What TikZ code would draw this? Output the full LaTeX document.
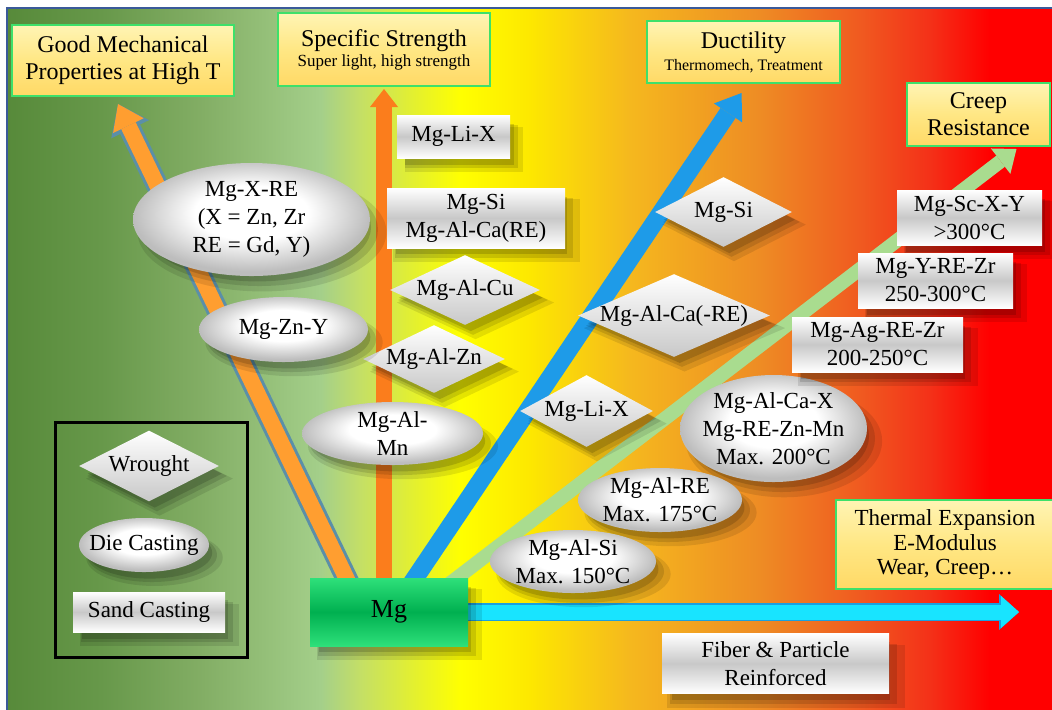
\documentclass[tikz,border=0pt]{standalone}
\usepackage{fontspec}
\setmainfont{Liberation Serif}
\usetikzlibrary{arrows.meta,shapes.geometric,shadows}

\definecolor{bgA}{HTML}{578A3A}
\definecolor{bgB}{HTML}{67984A}
\definecolor{bgC}{HTML}{82AD64}
\definecolor{bgD}{HTML}{A4CF8A}
\definecolor{bgE}{HTML}{C4DF66}
\definecolor{bgF}{HTML}{FFFF00}
\definecolor{bgG}{HTML}{FDE800}
\definecolor{bgH}{HTML}{F5B81E}
\definecolor{bgI}{HTML}{EE8C24}
\definecolor{bgJ}{HTML}{F05A20}
\definecolor{bgK}{HTML}{F43018}
\definecolor{bgL}{HTML}{FF0000}
\definecolor{framecol}{HTML}{3A5A9A}
\definecolor{hdrlight}{HTML}{FFF4B4}
\definecolor{hdrmid}{HTML}{FFE784}
\definecolor{hdrdark}{HTML}{FFD966}
\definecolor{hdredge}{HTML}{3EE06A}
\definecolor{mgdark}{HTML}{00B050}
\definecolor{mglight}{HTML}{2EE07A}
\definecolor{silver}{HTML}{C8C8C8}
\definecolor{silveredge}{HTML}{BDBDBD}
\definecolor{arrorange}{HTML}{FF9E30}
\definecolor{arrdeep}{HTML}{FB7D1C}
\definecolor{arrsteel}{HTML}{5B8FA8}
\definecolor{arrblue}{HTML}{1E9BE8}
\definecolor{arrgreen}{HTML}{A9DC8F}
\definecolor{arrcyan}{HTML}{18E4FF}
\definecolor{cyanedge}{HTML}{1AA0E0}

\pgfdeclarehorizontalshading{bgshade}{100bp}{color(0bp)=(bgA); color(25bp)=(bgA); color(29.5bp)=(bgB); color(34.2bp)=(bgC); color(40bp)=(bgD); color(41.9bp)=(bgE); color(46.7bp)=(bgF); color(50bp)=(bgG); color(54.8bp)=(bgH); color(61bp)=(bgI); color(65.8bp)=(bgJ); color(69.2bp)=(bgK); color(72bp)=(bgL); color(100bp)=(bgL)}
\pgfdeclareradialshading{silverglow}{\pgfpoint{0bp}{4bp}}{color(0bp)=(white); color(12bp)=(white); color(25bp)=(silveredge); color(50bp)=(silveredge)}

\pgfdeclarelayer{bg}
\pgfdeclarelayer{arrowlayer}
\pgfsetlayers{bg,arrowlayer,main}

\tikzset{
  every node/.style={font=\fontsize{11.5}{14}\selectfont, align=center, inner sep=0pt},
  hdrbox/.style={rectangle, draw=hdredge, line width=1pt, top color=hdrlight, bottom color=hdrdark, middle color=hdrmid},
  softshadow/.style={drop shadow={shadow xshift=5pt, shadow yshift=-6pt, shadow scale=1.05, opacity=.1, fill=black},
    drop shadow={shadow xshift=4pt, shadow yshift=-5pt, opacity=.12, fill=black},
    drop shadow={shadow xshift=3pt, shadow yshift=-4pt, shadow scale=.96, opacity=.15, fill=black}},
  silverbox/.style={rectangle, softshadow, top color=white, bottom color=white, middle color=silver},
  silveroval/.style={ellipse, softshadow, shading=silverglow, inner xsep=-2pt, inner ysep=-1.5pt},
  silvergem/.style={diamond, softshadow, top color=white, bottom color=silver},
  mgbox/.style={rectangle, softshadow, top color=mglight, bottom color=mglight, middle color=mgdark, font=\fontsize{13}{15}\selectfont},
}

\begin{document}
\begin{tikzpicture}[x=0.5pt, y=-0.5pt]
\useasboundingbox (0,0) rectangle (1052,709);
\begin{pgfonlayer}{bg}
\shade[shading=bgshade] (7,7) rectangle (1052,709);
\draw[framecol, line width=1pt] (6.5,7.5) rectangle (1060,720);
\end{pgfonlayer}

\node (gm) at (123,60.5) [hdrbox, minimum width=111pt, minimum height=35.5pt, font=\fontsize{12}{13.5}\selectfont] {Good Mechanical\\Properties at High T};
\node (ss) at (384,49.5) [hdrbox, minimum width=106pt, minimum height=36.5pt, font=\fontsize{12}{10}\selectfont] {Specific Strength\\{\fontsize{8.5}{10}\selectfont Super light, high strength}};
\node (duct) at (743.5,52) [hdrbox, minimum width=96.5pt, minimum height=31pt, font=\fontsize{12}{11}\selectfont] {Ductility\\{\fontsize{8}{10}\selectfont Thermomech, Treatment}};
\node (creep) at (978.5,114.5) [hdrbox, minimum width=71.5pt, minimum height=31.5pt, font=\fontsize{12}{13.5}\selectfont] {Creep\\Resistance};
\node (therm) at (945,544.5) [hdrbox, minimum width=109pt, minimum height=44.5pt, font=\fontsize{11.5}{12.25}\selectfont] {Thermal Expansion\\E-Modulus\\Wear, Creep…};

\node (lixbox) at (453.5,136.5) [silverbox, minimum width=56.5pt, minimum height=21.5pt] {Mg-Li-X};
\node (sibox) at (476,218) [silverbox, minimum width=89pt, minimum height=30pt] {Mg-Si\\Mg-Al-Ca(RE)};
\node (alcu) at (465,290) [silvergem, aspect=2.14, minimum width=75pt, minimum height=35pt] {Mg-Al-Cu};
\node (alzn) at (434,359) [silvergem, aspect=2.09, minimum width=71pt, minimum height=34pt] {Mg-Al-Zn};
\node (xre) at (251.5,219.5) [silveroval, minimum width=118.5pt, minimum height=56.5pt] {Mg-X-RE\\(X = Zn, Zr\\RE = Gd, Y)};
\node (zny) at (283.5,329.5) [silveroval, minimum width=84.5pt, minimum height=32.5pt] {Mg-Zn-Y};
\node (almn) at (392.5,433.5) [silveroval, minimum width=90.5pt, minimum height=31.5pt] {Mg-Al-\\Mn};
\node (sigem) at (723.5,212) [silvergem, aspect=1.96, minimum width=68.5pt, minimum height=35pt] {Mg-Si};
\node (alcagem) at (674,315.5) [silvergem, aspect=2.31, inner ysep=-1pt, minimum width=96pt, minimum height=41.5pt] {Mg-Al-Ca(-RE)};
\node (lixgem) at (586.5,411) [silvergem, aspect=1.85, minimum width=66.5pt, minimum height=36pt] {Mg-Li-X};
\node (alcax) at (773.5,428.5) [silveroval, minimum width=93.5pt, minimum height=53.5pt, inner xsep=-4pt] {Mg-Al-Ca-X\\Mg-RE-Zn-Mn\\Max. 200°C};
\node (alre) at (660,500) [silveroval, minimum width=82pt, minimum height=32pt] {Mg-Al-RE\\Max. 175°C};
\node (alsi) at (573,561.5) [silveroval, minimum width=83pt, minimum height=31.5pt] {Mg-Al-Si\\Max. 150°C};
\node (scxy) at (969.5,217.5) [silverbox, minimum width=72.5pt, minimum height=27.5pt] {Mg-Sc-X-Y\\>300°C};
\node (yrezr) at (935.5,280.5) [silverbox, minimum width=77.5pt, minimum height=27.5pt] {Mg-Y-RE-Zr\\250-300°C};
\node (agrezr) at (877.5,344.5) [silverbox, minimum width=85.5pt, minimum height=27.5pt] {Mg-Ag-RE-Zr\\200-250°C};
\node (fiber) at (775.5,663.5) [silverbox, minimum width=113.5pt, minimum height=30pt] {Fiber \& Particle\\Reinforced};
\node (mg) at (389,612) [mgbox, minimum width=79pt, minimum height=34pt] {Mg};
\coordinate (mmctip) at (1019,612);

\draw[line width=1.5pt] (55,422) rectangle (247,657);
\node (wrought) at (149,466) [silvergem, aspect=1.97, minimum width=70pt, minimum height=35.5pt] {Wrought};
\node (die) at (144,545) [silveroval, minimum width=65pt, minimum height=27pt, inner xsep=-5pt] {Die Casting};
\node (sand) at (149,612) [silverbox, minimum width=76pt, minimum height=20pt] {Sand Casting};

\begin{pgfonlayer}{arrowlayer}
\draw[line width=8pt, arrorange, -{Triangle[width=17pt,length=12pt,line width=0pt]}, preaction={draw=arrsteel, line width=11pt, -{Triangle[width=21pt,length=14pt,line width=0pt]}}] ([xshift=-19.5pt,yshift=-4pt]mg.north) -- ([xshift=-2.5pt,yshift=-3.5pt]gm.south);
\draw[line width=8pt, arrdeep, -{Triangle[width=14pt,length=9pt,line width=0pt]}] ([xshift=-2.5pt,yshift=-4pt]mg.north) -- ([yshift=-1pt]ss.south);
\draw[line width=9pt, arrblue, -{Triangle[width=17pt,length=12pt,line width=0pt]}] ([xshift=10.5pt,yshift=-4pt]mg.north) -- ([xshift=-1pt,yshift=-4.5pt]duct.south);
\draw[line width=7pt, arrgreen, -{Triangle[width=16pt,length=10pt,line width=0pt]}] ([xshift=29pt,yshift=-4pt]mg.north) -- ([xshift=19pt,yshift=-1pt]creep.south);
\draw[line width=7.5pt, arrcyan, -{Triangle[width=16pt,length=9pt,line width=0pt]}, preaction={draw=cyanedge, line width=9pt, -{Triangle[width=18pt,length=10pt,line width=0pt]}}] (mg.east) -- (mmctip);
\end{pgfonlayer}
\end{tikzpicture}
\end{document}
